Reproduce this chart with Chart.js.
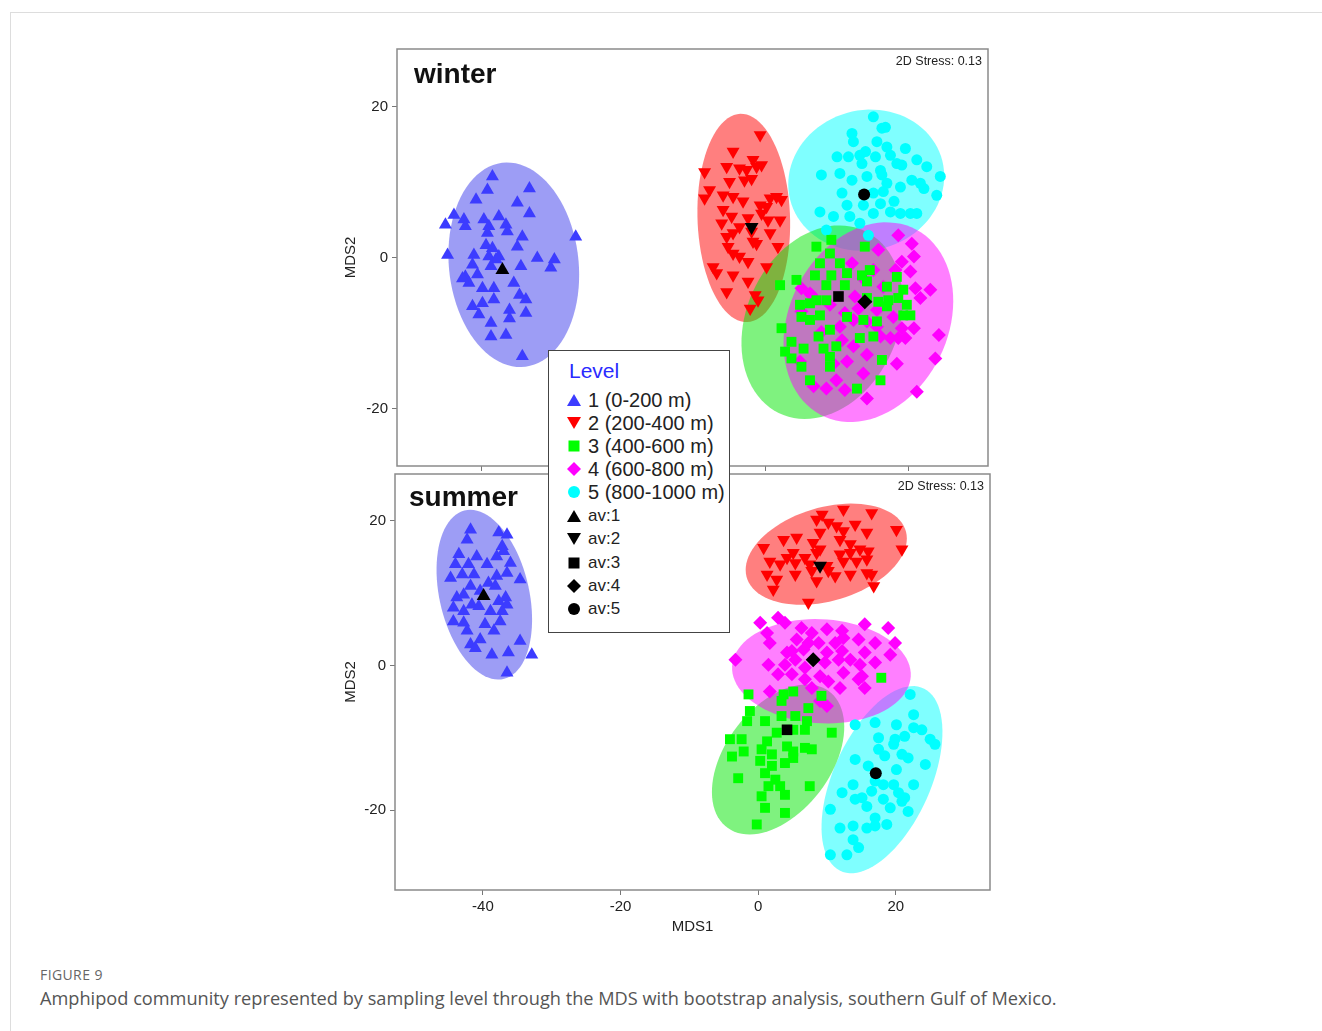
<!DOCTYPE html>
<html>
<head>
<meta charset="utf-8">
<script src="https://cdn.jsdelivr.net/npm/chart.js@4.4.0/dist/chart.umd.min.js"></script>
<style>
  body { margin: 0; width: 1322px; height: 1031px; background: #fff; position: relative; overflow: hidden; font-family: "Liberation Sans", Arial, sans-serif; }
  #frame { position: absolute; left: 10px; top: 12px; right: 0; bottom: 0; border-left: 1px solid #ddd; border-top: 1px solid #ddd; }
  canvas { position: absolute; }
  #winterChart { left: 330px; top: 30px; }
  #summerChart { left: 330px; top: 465px; }
  #legend { position: absolute; left: 548px; top: 350px; width: 180px; height: 281px; background: #fff; border: 1.5px solid #444; z-index: 5; }
  #legend .title { position: absolute; left: 20px; top: 8px; font-size: 21px; color: #2a2aff; }
  #legend .row { position: absolute; left: 18px; height: 22px; display: flex; align-items: center; color: #222; white-space: nowrap; }
  #legend .row svg { margin-right: 7px; }
  .fig { position: absolute; left: 40px; top: 965px; font-family: "Open Sans", sans-serif; font-size: 14px; color: #666; letter-spacing: 0.4px; }
  .caption { position: absolute; left: 40px; top: 986px; font-family: "Open Sans", sans-serif; font-size: 18.2px; color: #555; }
</style>
</head>
<body>
<div id="frame"></div>
<canvas id="winterChart" width="670" height="445"></canvas>
<canvas id="summerChart" width="670" height="480"></canvas>
<div id="legend"></div>
<div class="fig">FIGURE 9</div>
<div class="caption">Amphipod community represented by sampling level through the MDS with bootstrap analysis, southern Gulf of Mexico.</div>

<script>
// Подписи и тики
const xTicks = [-40, -20, 0, 20];
const yTicks = [-20, 0, 20];
const levelLabels = ['1 (0-200 m)', '2 (200-400 m)', '3 (400-600 m)', '4 (600-800 m)', '5 (800-1000 m)'];
const avLabels = ['av:1', 'av:2', 'av:3', 'av:4', 'av:5'];

// Зима: точки по уровням [MDS1, MDS2]
const winterL1 = [[-38.4,10.8],[-39.1,9.0],[-33.2,9.2],[-40.7,7.7],[-34.9,7.3],[-33.2,5.9],[-43.8,5.7],[-45.0,4.4],[-42.4,5.1],[-42.2,4.2],[-39.6,5.1],[-38.9,4.2],[-37.5,5.5],[-36.5,4.4],[-39.1,3.3],[-36.3,3.5],[-26.7,2.8],[-34.2,2.8],[-44.7,0.4],[-39.3,1.7],[-38.4,1.3],[-34.9,1.5],[-41.0,0.4],[-38.9,0.2],[-37.9,-0.2],[-37.5,0.2],[-32.1,0.0],[-29.7,-0.2],[-30.2,-1.3],[-41.2,-0.9],[-34.4,-1.1],[-38.6,-1.1],[-42.2,-2.5],[-40.5,-2.2],[-41.7,-3.3],[-35.4,-3.3],[-39.8,-4.0],[-38.2,-4.0],[-34.6,-4.9],[-41.2,-6.4],[-39.8,-6.0],[-38.2,-5.5],[-36.0,-6.9],[-33.7,-5.5],[-33.7,-7.3],[-40.3,-7.5],[-38.6,-8.6],[-36.0,-8.0],[-38.6,-10.4],[-36.5,-10.2],[-34.2,-13.0],[-42.6,-2.7]];
const winterL2 = [[-0.8,16.3],[-4.6,14.1],[-1.8,13.0],[-8.6,11.4],[-5.5,12.1],[-3.7,11.9],[-2.7,11.7],[-1.3,12.1],[-0.6,12.3],[-5.1,10.1],[-3.0,10.3],[-2.0,10.5],[-7.9,9.0],[-6.0,8.3],[-4.6,8.1],[-8.6,7.9],[-3.2,7.5],[-0.8,7.0],[0.6,7.9],[1.5,8.1],[2.2,7.7],[0.1,6.8],[-6.2,4.6],[-4.8,5.5],[-2.5,5.3],[-0.6,5.9],[0.3,5.0],[2.0,5.0],[-5.5,2.8],[-4.6,3.3],[-2.0,3.5],[0.6,3.3],[-5.3,1.5],[-1.8,2.2],[-1.3,1.9],[1.7,1.5],[-4.6,0.6],[-3.7,0.2],[-2.5,-0.5],[-7.4,-1.2],[-6.9,-2.0],[-4.6,-2.3],[0.1,-1.2],[-2.5,-3.1],[-5.5,-4.5],[-1.5,-4.9],[-1.1,-5.6],[-2.2,-6.7],[-6.0,6.4],[-3.7,4.1]];
const winterL3 = [[7.1,1.5],[9.2,2.4],[9.0,0.6],[13.9,1.5],[10.4,-0.7],[7.6,-0.7],[6.9,-2.3],[2.0,-3.6],[4.3,-2.9],[9.2,-2.3],[11.4,-2.0],[13.5,-2.3],[14.6,-1.6],[8.5,-3.6],[11.1,-3.6],[14.2,-3.1],[17.0,-3.8],[18.4,-2.5],[19.3,-4.2],[7.1,-5.6],[4.8,-6.2],[6.2,-6.0],[8.5,-5.6],[14.2,-5.3],[15.8,-5.8],[17.2,-5.6],[18.6,-5.3],[19.8,-6.2],[20.3,-7.6],[5.0,-7.8],[6.2,-8.2],[7.6,-7.6],[11.4,-7.8],[9.0,-9.5],[13.7,-8.2],[15.6,-8.4],[2.2,-9.3],[19.3,-7.6],[3.6,-11.1],[5.3,-12.0],[7.4,-10.4],[8.1,-12.0],[9.9,-11.7],[13.2,-10.6],[15.1,-10.4],[2.7,-12.4],[3.6,-13.3],[5.0,-14.4],[9.0,-13.1],[16.3,-13.5],[16.1,-16.2],[6.2,-16.2],[12.8,-17.3],[9.0,-14.4],[17.0,-6.4]];
const winterL4 = [[18.6,3.0],[20.5,1.9],[15.8,1.1],[20.8,0.2],[19.1,-0.5],[12.1,-0.7],[15.1,-1.6],[18.2,-1.6],[20.3,-1.8],[13.7,-2.7],[16.5,-3.8],[21.0,-4.0],[23.1,-4.2],[5.0,-4.0],[6.4,-4.9],[9.0,-6.2],[12.5,-5.1],[13.0,-6.7],[21.7,-5.3],[15.6,-6.9],[17.9,-7.8],[5.0,-7.1],[11.1,-7.3],[12.3,-8.2],[14.2,-8.4],[10.4,-9.1],[16.1,-10.4],[17.5,-10.6],[19.1,-9.3],[20.8,-9.3],[7.8,-9.8],[10.7,-10.9],[12.3,-11.7],[14.2,-12.8],[18.6,-10.6],[19.6,-10.6],[24.3,-10.2],[23.8,-13.3],[4.8,-13.7],[9.5,-14.0],[11.4,-13.7],[13.7,-15.3],[18.4,-14.0],[6.7,-17.0],[8.5,-17.3],[9.9,-16.2],[11.1,-17.5],[14.2,-18.6],[21.2,-17.7],[15.6,-9.1],[6.2,-4.7]];
const winterL5 = [[15.1,18.7],[16.3,17.2],[16.8,17.3],[12.1,16.5],[12.3,15.4],[15.6,15.4],[17.0,14.7],[14.0,14.1],[19.6,14.5],[10.0,13.4],[11.6,13.4],[13.2,13.6],[15.4,13.4],[17.5,13.6],[18.4,12.5],[21.2,13.0],[22.6,12.1],[13.5,12.5],[16.1,11.6],[19.1,12.3],[7.8,11.0],[10.4,11.2],[12.1,10.3],[14.2,10.8],[16.3,11.0],[17.0,9.9],[20.5,10.3],[21.7,9.9],[24.5,10.8],[10.7,8.6],[15.1,8.6],[16.5,8.8],[18.9,9.4],[22.2,9.2],[24.0,8.3],[11.4,7.0],[13.7,7.0],[16.1,7.2],[18.0,7.5],[7.6,6.1],[9.5,5.5],[11.8,5.5],[15.1,5.9],[17.5,6.1],[18.9,5.9],[20.3,5.9],[21.2,5.9],[13.2,4.6],[8.5,3.7],[14.4,3.0]];
const winterAv = [[-37.0,-1.6],[-2.0,4.1],[10.2,-5.1],[13.9,-5.8],[13.8,8.4]];
// бутстреп-области: [центр x, центр y, полуось a, полуось b, угол]
const winterRegions = [[-35.4,-0.9,13.6,9.1,97],[-3.1,5.3,13.8,6.5,92],[7.9,-8.5,13.5,10.5,60],[14.4,-8.5,14,11,58],[14.1,10.3,11,9.3,10]];

// Лето
const summerL1 = [[-41.8,18.8],[-37.7,18.4],[-36.5,18.1],[-42.3,17.4],[-37.2,16.5],[-43.5,15.4],[-40.9,15.1],[-38.0,15.1],[-37.0,15.8],[-44.0,14.0],[-42.1,14.0],[-39.4,14.0],[-36.0,14.2],[-44.7,12.1],[-43.0,12.6],[-41.3,12.6],[-38.0,12.4],[-36.5,12.8],[-34.6,11.9],[-41.8,11.0],[-39.2,11.4],[-38.2,11.0],[-43.8,9.4],[-42.8,9.8],[-41.6,8.4],[-40.6,8.2],[-37.7,8.9],[-36.7,9.4],[-36.5,8.4],[-44.3,8.0],[-42.8,7.5],[-38.9,7.5],[-37.2,7.5],[-44.3,6.1],[-42.8,5.9],[-39.7,5.7],[-37.5,6.1],[-42.3,4.8],[-38.4,4.8],[-40.4,3.6],[-41.8,2.9],[-41.1,2.4],[-34.6,3.4],[-38.7,1.5],[-36.3,1.8],[-32.9,1.5],[-36.5,-1.0],[-40.4,10.3]];
const summerL2 = [[12.4,21.6],[16.5,21.1],[9.3,20.9],[8.5,20.2],[10.2,19.8],[14.1,19.5],[11.4,19.3],[20.1,18.8],[12.4,18.6],[15.8,18.4],[3.7,17.4],[5.6,17.7],[9.0,18.4],[11.9,17.4],[8.0,17.0],[13.4,16.8],[20.9,16.1],[0.8,16.3],[9.0,16.1],[14.8,16.1],[16.0,15.8],[4.2,14.9],[6.8,14.9],[8.5,15.6],[11.9,15.4],[13.4,15.6],[1.7,14.4],[3.2,14.0],[5.4,14.2],[7.5,14.0],[12.4,14.4],[14.3,14.4],[15.8,14.7],[1.3,12.6],[2.7,11.9],[5.4,12.6],[7.8,13.1],[10.2,13.1],[11.2,12.4],[13.4,12.6],[15.8,12.8],[16.5,12.6],[2.2,10.5],[8.5,11.7],[16.8,11.0],[7.3,8.7],[10.0,13.8],[5.1,15.6]];
const summerL3 = [[-1.4,-4.0],[3.7,-4.0],[5.1,-3.6],[3.4,-4.9],[7.3,-5.9],[9.2,-4.2],[-1.2,-6.3],[-1.6,-7.7],[1.0,-7.7],[3.4,-7.0],[5.4,-7.0],[7.1,-7.7],[10.7,-9.3],[-4.1,-10.2],[-2.4,-10.2],[1.3,-10.5],[2.7,-9.3],[5.1,-8.9],[6.8,-8.9],[-3.8,-12.6],[-2.1,-11.9],[0.5,-11.6],[2.0,-12.3],[4.2,-11.2],[5.1,-11.9],[6.8,-11.4],[7.8,-11.6],[0.3,-13.2],[2.0,-13.9],[3.9,-13.5],[5.1,-12.8],[1.0,-14.9],[-2.9,-15.6],[1.5,-16.7],[3.2,-16.7],[0.5,-18.1],[3.9,-17.9],[7.5,-16.7],[1.0,-19.7],[3.9,-20.4],[-0.2,-22.0],[2.5,-15.8],[17.9,-1.7]];
const summerL4 = [[0.3,5.9],[2.9,6.6],[3.9,5.9],[1.3,4.5],[6.3,5.2],[7.8,4.5],[10.0,5.0],[12.2,4.8],[15.5,5.7],[18.9,5.2],[-3.3,0.8],[1.7,3.1],[5.6,3.6],[7.3,3.1],[4.9,2.0],[8.8,3.1],[11.2,3.1],[12.4,3.8],[14.6,3.6],[17.0,3.1],[19.9,3.1],[4.2,1.8],[6.6,2.2],[10.0,1.8],[12.2,2.0],[15.5,1.8],[19.2,1.5],[1.5,0.1],[3.9,0.1],[5.4,0.8],[9.7,0.4],[11.7,0.8],[13.4,0.8],[14.8,0.1],[17.0,0.4],[2.9,-1.2],[4.9,-1.2],[6.8,-1.9],[9.0,-1.5],[10.2,-2.2],[12.4,-1.0],[15.1,-1.5],[1.7,-3.6],[7.8,-3.1],[11.9,-3.1],[15.5,-3.1],[10.0,-5.6],[9.0,-4.9],[14.6,-1.9],[6.8,-0.3]];
const summerL5 = [[22.1,-4.0],[22.6,-6.8],[14.1,-8.2],[17.0,-7.9],[20.1,-8.2],[22.6,-8.6],[23.8,-8.9],[17.5,-10.0],[19.9,-10.2],[21.3,-9.8],[25.0,-10.2],[25.7,-10.9],[17.5,-11.6],[19.7,-10.9],[20.9,-12.3],[14.1,-13.0],[18.4,-12.5],[21.8,-12.8],[16.0,-13.9],[20.1,-14.4],[24.3,-13.7],[13.8,-16.5],[17.0,-16.0],[18.2,-16.5],[19.7,-16.5],[22.6,-16.5],[12.2,-17.6],[14.1,-18.5],[16.5,-17.4],[18.2,-18.5],[20.4,-17.6],[21.3,-18.3],[15.8,-19.5],[19.2,-19.7],[21.8,-20.2],[10.5,-19.9],[17.0,-21.1],[18.7,-22.0],[11.9,-22.5],[13.8,-22.2],[15.8,-22.5],[17.0,-22.2],[13.8,-24.1],[14.6,-25.2],[12.9,-26.2],[10.5,-26.2],[20.9,-18.8],[15.1,-18.3]];
const summerAv = [[-39.9,9.6],[9.0,13.8],[4.2,-8.9],[8.0,0.8],[17.1,-14.9]];
const summerRegions = [[-39.8,9.8,12,6.5,104],[9.9,15.4,12,6.5,15],[2.9,-13.0,12,7.5,50],[9.2,-0.8,13,7.2,-3],[18.0,-15.8,14,7,64]];

// Оформление уровней
const pointColors = ['#3c3cff', '#ff0000', '#00ff00', '#ff00ff', '#00ffff'];
const regionColors = ['rgba(60,60,235,0.5)', 'rgba(255,0,0,0.5)', 'rgba(0,230,0,0.5)', 'rgba(255,0,255,0.5)', 'rgba(0,255,255,0.5)'];
const pointStyles = ['triangle', 'triangle', 'rect', 'rectRot', 'circle'];
const pointRotations = [0, 180, 0, 0, 0];
const pointSizes = [7.5, 7.5, 7, 7, 5.5];
const regionOrder = [0, 1, 4, 2, 3];

const axisFont = { family: '"Liberation Sans", Arial, sans-serif', size: 15 };

// Бутстреп-эллипсы через шкалы
const regionsPlugin = {
  id: 'regions',
  beforeDatasetsDraw(chart, args, opts) {
    const { ctx, chartArea, scales: { x, y } } = chart;
    ctx.save();
    ctx.beginPath();
    ctx.rect(chartArea.left, chartArea.top, chartArea.width, chartArea.height);
    ctx.clip();
    regionOrder.forEach(i => {
      const [cx, cy, a, b, deg] = opts.list[i];
      const r = deg * Math.PI / 180;
      ctx.beginPath();
      for (let k = 0; k <= 90; k++) {
        const t = k / 90 * 2 * Math.PI;
        const dx = a * Math.cos(t), dy = b * Math.sin(t);
        const px = x.getPixelForValue(cx + dx * Math.cos(r) - dy * Math.sin(r));
        const py = y.getPixelForValue(cy + dx * Math.sin(r) + dy * Math.cos(r));
        if (k === 0) ctx.moveTo(px, py); else ctx.lineTo(px, py);
      }
      ctx.closePath();
      ctx.fillStyle = regionColors[i];
      ctx.fill();
    });
    ctx.restore();
  }
};

// Рамка, название панели и stress
const panelPlugin = {
  id: 'panel',
  afterDraw(chart, args, opts) {
    const { ctx, chartArea } = chart;
    ctx.save();
    ctx.strokeStyle = '#8a8a8a';
    ctx.lineWidth = 1.5;
    ctx.strokeRect(chartArea.left, chartArea.top, chartArea.width, chartArea.height);
    ctx.fillStyle = '#111';
    ctx.textBaseline = 'middle';
    ctx.font = 'bold 28px "Liberation Sans", Arial, sans-serif';
    ctx.textAlign = 'left';
    ctx.fillText(opts.title, chartArea.left + opts.titleDx, chartArea.top + opts.titleDy);
    ctx.font = '12.5px "Liberation Sans", Arial, sans-serif';
    ctx.fillStyle = '#222';
    ctx.textAlign = 'right';
    ctx.fillText('2D Stress: 0.13', chartArea.right - 6, chartArea.top + 12.5);
    ctx.restore();
  }
};

function buildDatasets(levels, averages) {
  const sets = [];
  levels.forEach((pts, i) => {
    sets.push({
      data: pts.map(p => ({ x: p[0], y: p[1] })),
      pointStyle: pointStyles[i],
      pointRotation: pointRotations[i],
      pointRadius: pointSizes[i],
      pointBackgroundColor: pointColors[i],
      pointBorderWidth: 0,
      order: 1
    });
  });
  averages.forEach((p, i) => {
    sets.push({
      data: [{ x: p[0], y: p[1] }],
      pointStyle: pointStyles[i],
      pointRotation: pointRotations[i],
      pointRadius: pointSizes[i] + 0.5,
      pointBackgroundColor: '#000',
      pointBorderWidth: 0,
      order: 0
    });
  });
  return sets;
}

function makePanel(canvasId, cfg) {
  const ctx = document.getElementById(canvasId).getContext('2d');
  return new Chart(ctx, {
    type: 'scatter',
    data: { datasets: buildDatasets(cfg.levels, cfg.averages) },
    plugins: [regionsPlugin, panelPlugin],
    options: {
      responsive: false,
      animation: false,
      layout: { padding: cfg.padding, autoPadding: false },
      plugins: {
        legend: { display: false },
        tooltip: { enabled: false },
        regions: { list: cfg.regions },
        panel: { title: cfg.title, titleDx: cfg.titleDx, titleDy: cfg.titleDy }
      },
      scales: {
        x: {
          type: 'linear', min: cfg.xMin, max: cfg.xMax,
          afterBuildTicks: s => { s.ticks = xTicks.map(v => ({ value: v })); },
          afterFit: s => { s.height = cfg.xAxisHeight; s.paddingLeft = 0; s.paddingRight = 0; },
          border: { display: false },
          grid: { drawOnChartArea: false, color: '#777', tickLength: 5 },
          ticks: { display: cfg.xLabels, font: axisFont, color: '#222', padding: 3, maxRotation: 0 },
          title: { display: cfg.xLabels, text: 'MDS1', font: axisFont, color: '#222', padding: { top: 0, bottom: 9 } }
        },
        y: {
          type: 'linear', min: cfg.yMin, max: cfg.yMax,
          afterBuildTicks: s => { s.ticks = yTicks.map(v => ({ value: v })); },
          afterFit: s => { s.width = cfg.yAxisWidth; s.paddingTop = 0; s.paddingBottom = 0; },
          border: { display: false },
          grid: { drawOnChartArea: false, color: '#777', tickLength: 5 },
          ticks: { font: axisFont, color: '#222', padding: 4 },
          title: { display: true, text: 'MDS2', font: axisFont, color: '#222', padding: { top: 12, bottom: 0 } }
        }
      }
    }
  });
}

makePanel('winterChart', {
  levels: [winterL1, winterL2, winterL3, winterL4, winterL5],
  averages: winterAv,
  regions: winterRegions,
  title: 'winter', titleDx: 17, titleDy: 26.5,
  xMin: -51.8, xMax: 31.2, yMin: -27.55, yMax: 27.68,
  padding: { left: 0, top: 19, right: 12, bottom: 0 },
  xAxisHeight: 9, yAxisWidth: 67, xLabels: false
});

makePanel('summerChart', {
  levels: [summerL1, summerL2, summerL3, summerL4, summerL5],
  averages: summerAv,
  regions: summerRegions,
  title: 'summer', titleDx: 14, titleDy: 24,
  xMin: -52.78, xMax: 33.7, yMin: -31.07, yMax: 26.5,
  padding: { left: 0, top: 9, right: 10, bottom: 0 },
  xAxisHeight: 55, yAxisWidth: 65, xLabels: true
});

// Легенда
function legendSymbol(i, color) {
  const shapes = [
    '<polygon points="7,1 14,13 0,13"/>',
    '<polygon points="0,1 14,1 7,13"/>',
    '<rect x="1.5" y="1.5" width="11" height="11"/>',
    '<polygon points="7,0 14,7 7,14 0,7"/>',
    '<circle cx="7" cy="7" r="6"/>'
  ];
  return `<svg width="14" height="14" viewBox="0 0 14 14" fill="${color}">${shapes[i]}</svg>`;
}

const legend = document.getElementById('legend');
let html = '<div class="title">Level</div>';
levelLabels.forEach((label, i) => {
  html += `<div class="row" style="top:${38 + i * 23.1}px;font-size:20px">${legendSymbol(i, pointColors[i])}<span>${label}</span></div>`;
});
avLabels.forEach((label, i) => {
  html += `<div class="row" style="top:${154 + i * 23.3}px;font-size:17px">${legendSymbol(i, '#000')}<span>${label}</span></div>`;
});
legend.innerHTML = html;
</script>
</body>
</html>
